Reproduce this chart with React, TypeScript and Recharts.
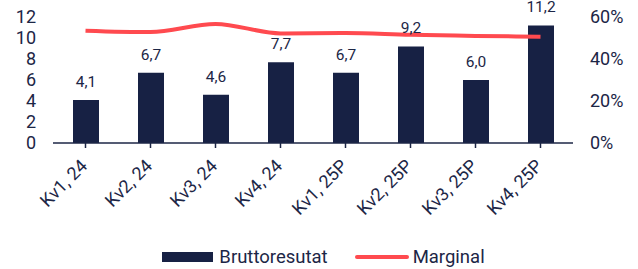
import React from 'react';
import { ComposedChart, Bar, Line, XAxis, YAxis, Legend, LabelList } from 'recharts';

const categories = ['Kv1, 24', 'Kv2, 24', 'Kv3, 24', 'Kv4, 24', 'Kv1, 25P', 'Kv2, 25P', 'Kv3, 25P', 'Kv4, 25P'];
const bruttoresultat = [4.1, 6.7, 4.6, 7.7, 6.7, 9.2, 6.0, 11.2];
const marginal = [0.535, 0.528, 0.567, 0.522, 0.524, 0.515, 0.51, 0.506];
const leftTicks = [0, 2, 4, 6, 8, 10, 12];
const rightTicks = [0, 0.2, 0.4, 0.6];
const edgeTicks = [0, 1, 2, 3, 4, 5, 6, 7, 8];

const data = categories.map((c, i) => ({ name: c, brutto: bruttoresultat[i], marginal: marginal[i] }));

const FONT = 'Roboto, sans-serif';
const TEXT = '#1c2646';
const BAR = '#172144';
const LINE = '#ff4a4f';
const AXIS = '#1c2646';

const fmtComma = (v: number) => v.toFixed(1).replace('.', ',');
const fmtPct = (v: number) => `${Math.round(v * 100)}%`;

const CatTick = (props: any) => {
  const { x, y, payload } = props;
  return (
    <g transform={`translate(${x + 3},${y + 16}) rotate(-45)`}>
      <text x={0} y={0} textAnchor="end" fill={TEXT} fontSize={18} fontFamily={FONT}>
        {payload.value}
      </text>
    </g>
  );
};

const LegendContent = () => (
  <div
    style={{
      display: 'flex',
      justifyContent: 'center',
      alignItems: 'center',
      height: 22,
      paddingLeft: 9,
      boxSizing: 'border-box',
      fontFamily: FONT,
      fontSize: 18.5,
      color: TEXT,
      whiteSpace: 'nowrap',
    }}
  >
    <span style={{ display: 'inline-block', width: 51, height: 10, background: BAR }} />
    <span style={{ marginLeft: 6 }}>Bruttoresutat</span>
    <span style={{ display: 'inline-block', width: 54, height: 4, background: LINE, borderRadius: 2, marginLeft: 27 }} />
    <span style={{ marginLeft: 4 }}>Marginal</span>
  </div>
);

export default function App() {
  return (
    <div style={{ position: 'absolute', left: 0, top: 0, width: 638, height: 269 }}>
      <ComposedChart
        width={638}
        height={269}
        data={data}
        margin={{ top: 17, right: 0, bottom: 1, left: 0 }}
      >
        <XAxis
          xAxisId={0}
          type="number"
          domain={[0, 8]}
          ticks={edgeTicks}
          tick={false}
          tickLine={{ stroke: AXIS, strokeWidth: 1.5 }}
          axisLine={{ stroke: AXIS, strokeWidth: 1.5 }}
          tickSize={5}
          height={0}
          allowDataOverflow
        />
        <XAxis
          xAxisId="cat"
          dataKey="name"
          interval={0}
          height={103}
          tickSize={5}
          tickMargin={3}
          tick={<CatTick />}
          tickLine={{ stroke: AXIS, strokeWidth: 1.5 }}
          axisLine={{ stroke: AXIS, strokeWidth: 1.5 }}
        />
        <YAxis
          yAxisId="left"
          orientation="left"
          width={53}
          domain={[0, 12]}
          ticks={leftTicks}
          interval={0}
          axisLine={false}
          tickLine={false}
          tickSize={6}
          tickMargin={11}
          tick={{ fill: TEXT, fontSize: 18, fontFamily: FONT }}
        />
        <YAxis
          yAxisId="right"
          orientation="right"
          width={65}
          domain={[0, 0.6]}
          ticks={rightTicks}
          interval={0}
          tickFormatter={fmtPct}
          axisLine={false}
          tickLine={false}
          tickSize={6}
          tickMargin={11}
          tick={{ fill: TEXT, fontSize: 18, fontFamily: FONT, textAnchor: 'start' }}
        />
        <Bar xAxisId="cat" yAxisId="left" dataKey="brutto" fill={BAR} barSize={26} isAnimationActive={false}>
          <LabelList
            dataKey="brutto"
            position="top"
            offset={13}
            formatter={fmtComma}
            style={{ fill: TEXT, fontSize: 15.5, fontFamily: FONT }}
          />
        </Bar>
        <Line
          xAxisId="cat"
          yAxisId="right"
          dataKey="marginal"
          type="monotone"
          stroke={LINE}
          strokeWidth={4}
          dot={false}
          activeDot={false}
          isAnimationActive={false}
        />
        <Legend verticalAlign="bottom" height={22} content={<LegendContent />} />
      </ComposedChart>
    </div>
  );
}
